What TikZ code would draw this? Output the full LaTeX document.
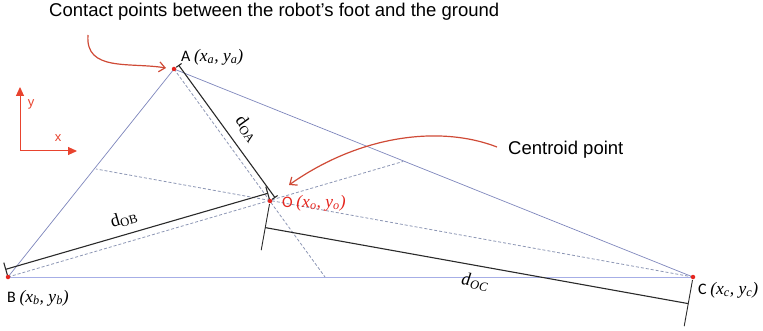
\documentclass[tikz,border=0pt]{standalone}
\usepackage{fontspec}
\setmainfont{Liberation Sans}
\newfontfamily\labfont{Carlito}
\newfontfamily\serf{Liberation Serif}
\newcommand{\crdp}[1]{{\serf\itshape\fontsize{17.5}{19}\selectfont (x\textsubscript{#1}, y\textsubscript{#1})}}
\usetikzlibrary{arrows.meta}
\definecolor{tri}{HTML}{7E86BC}
\definecolor{trilight}{HTML}{A6AEE6}
\definecolor{med}{HTML}{8C96B4}
\definecolor{ptred}{HTML}{E5261F}
\definecolor{axred}{HTML}{E8432E}
\definecolor{curvered}{HTML}{CF4A36}
\definecolor{dimc}{HTML}{2A2A2A}
\begin{document}
\begin{tikzpicture}[x=1pt,y=-1pt,
  side/.style={draw=tri,line width=0.7pt},
  median/.style={draw=med,dashed,dash pattern=on 3pt off 2pt,line width=0.8pt},
  dimline/.style={draw=dimc,line width=1.1pt},
  dot/.style={circle,fill=ptred,inner sep=0pt,minimum size=4.5pt},
  ptlabel/.style={font=\labfont\fontsize{16}{18}\selectfont,inner sep=0pt,anchor=west},
  axisarrow/.style={draw=axred,line width=1pt,-{Triangle[length=9pt,width=8pt]}},
  callout/.style={draw=curvered,line width=1.2pt,-{Straight Barb[length=6pt,width=10pt]}},
  dimlabel/.style={font=\serf\fontsize{18}{20}\selectfont,inner sep=0pt}]
\useasboundingbox (0,0) rectangle (763,331);
% main points
\coordinate (A) at (174,69);
\coordinate (B) at (8,277);
\coordinate (C) at (693,277);
\coordinate (O) at (270,201);
% median feet
\coordinate (MA) at (325,277);
\coordinate (MB) at (403,161.5);
\coordinate (MC) at (96,169);
% triangle
\draw[side] (A) -- (B);
\draw[side] (A) -- (C);
\draw[side,draw=trilight,line width=1pt] (B) -- (C);
% medians
\draw[median] (A) -- (MA);
\draw[median] (B) -- (MB);
\draw[median] (C) -- (MC);
% dimension OA
\coordinate (oa1) at (178.9,65.5);
\coordinate (oa2) at (274.9,197.5);
\coordinate (oa1a) at (176.2,67.3);
\coordinate (oa1b) at (181.6,63.5);
\coordinate (oa2a) at (272.2,199.3);
\coordinate (oa2b) at (277.6,195.5);
\draw[dimline] (oa1) -- (oa2);
\draw[dimline] (oa1a) -- (oa1b);
\draw[dimline] (oa2a) -- (oa2b);
% dimension OB
\coordinate (ob1) at (5.8,269.3);
\coordinate (ob2) at (267.8,193.3);
\coordinate (ob1a) at (7.4,275.1);
\coordinate (ob1b) at (3.8,262.6);
\coordinate (ob2a) at (269.4,199.1);
\coordinate (ob2b) at (265.8,186.6);
\draw[dimline] (ob1) -- (ob2);
\draw[dimline] (ob1a) -- (ob1b);
\draw[dimline] (ob2a) -- (ob2b);
% dimension OC
\coordinate (oc1) at (265.2,227.6);
\coordinate (oc2) at (688.2,303.6);
\coordinate (oc1a) at (269.5,204);
\coordinate (oc1b) at (261.2,250.2);
\coordinate (oc2a) at (692.5,280);
\coordinate (oc2b) at (684.2,326.2);
\draw[dimline] (oc1) -- (oc2);
\draw[dimline,line width=0.9pt] (oc1a) -- (oc1b);
\draw[dimline,line width=0.9pt] (oc2a) -- (oc2b);
% distance labels
\node[dimlabel,rotate=-54] (lOA) at (247,129) {d\textsubscript{OA}};
\node[dimlabel,rotate=16] (lOB) at (124,219) {d\textsubscript{OB}};
\node[dimlabel,rotate=-8,font=\serf\itshape\fontsize{18}{20}\selectfont] (lOC) at (475,282) {d\textsubscript{OC}};
% points
\node[dot] (pA) at (A) {};
\node[dot] (pB) at (B) {};
\node[dot] (pC) at (C) {};
\node[dot] (pO) at (O) {};
% point labels
\node[ptlabel] (tA) at (181,57) {A \crdp{a}};
\node[ptlabel] (tB) at (7,298) {B \crdp{b}};
\node[ptlabel] (tC) at (698,290) {C \crdp{c}};
\node[ptlabel,text=ptred] (tO) at (282,203) {O \crdp{o}};
% axes
\coordinate (ax0) at (20,151);
\coordinate (axy) at (20,87);
\coordinate (axx) at (77,151);
\draw[axisarrow] (ax0) -- (axy);
\draw[axisarrow] (ax0) -- (axx);
\node[font=\fontsize{13}{15}\selectfont,text=axred,inner sep=0pt] (ly) at (31,104) {y};
\node[font=\fontsize{13}{15}\selectfont,text=axred,inner sep=0pt] (lx) at (58,138) {x};
% titles
\node[font=\fontsize{18.5}{20}\selectfont,anchor=west,inner sep=0pt] (title) at (49,12) {Contact points between the robot’s foot and the ground};
\node[font=\fontsize{18.5}{20}\selectfont,anchor=west,inner sep=0pt] (cent) at (508,150) {Centroid point};
% callouts
\coordinate (c1s) at (88,35);
\coordinate (c1e) at (166,68);
\draw[callout] (c1s) .. controls (85,72) and (130,62) .. (c1e);
\coordinate (c2s) at (497,147);
\coordinate (c2e) at (289,185);
\draw[callout] (c2s) .. controls (440,125) and (360,135) .. (c2e);
\end{tikzpicture}
\end{document}
